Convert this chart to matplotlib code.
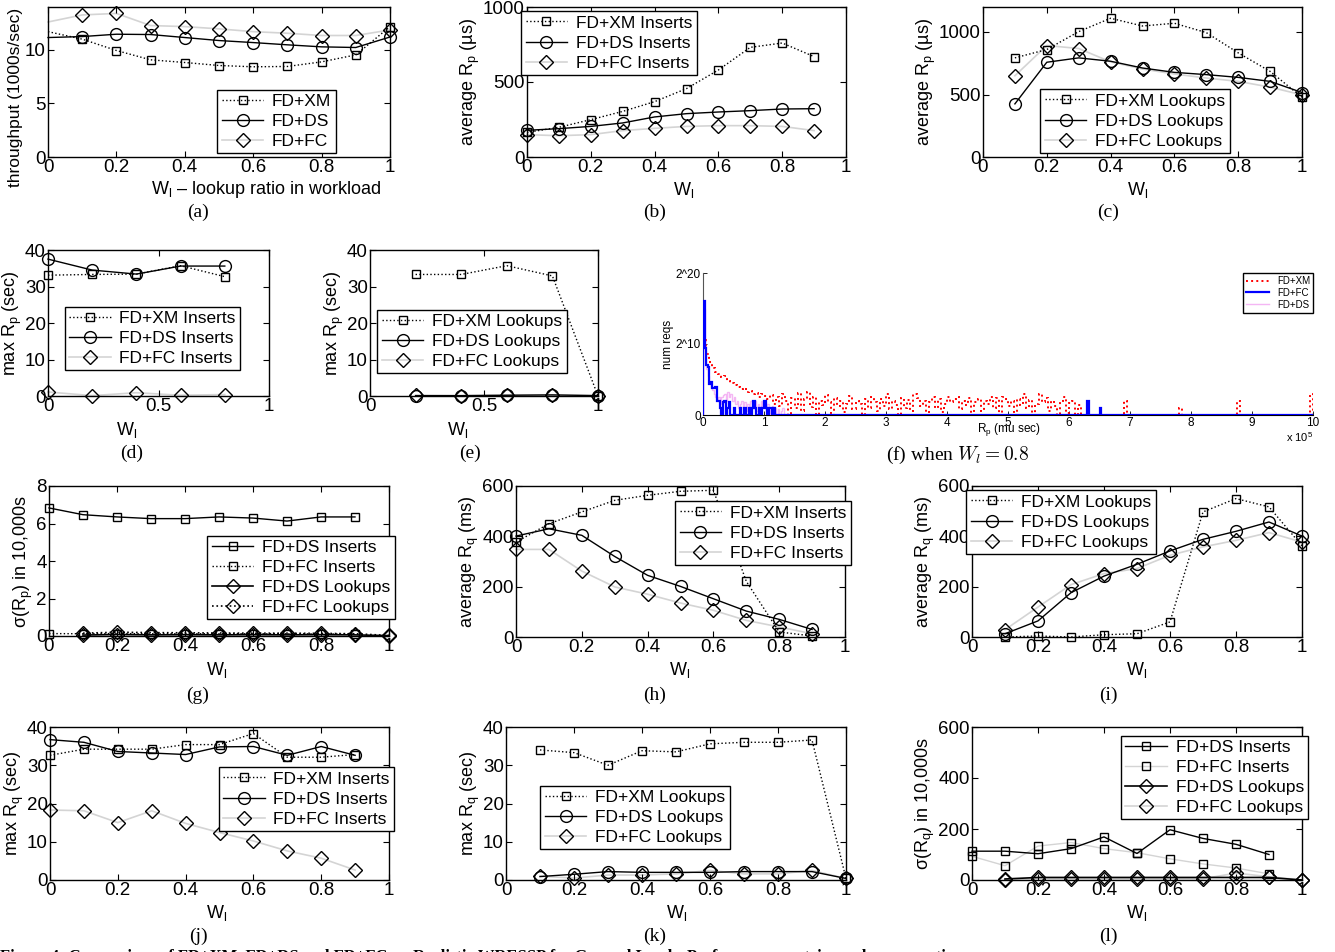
import numpy as np
import matplotlib
matplotlib.use('Agg')
import matplotlib.pyplot as plt

plt.rcParams['font.family'] = ['Liberation Sans', 'DejaVu Sans']
plt.rcParams['mathtext.fontset'] = 'custom'
plt.rcParams['mathtext.rm'] = 'Liberation Sans'
plt.rcParams['mathtext.it'] = 'Liberation Sans:italic'
plt.rcParams['font.size'] = 13

W, H = 1335, 952

# ---- data ----
wl = [0.0, 0.1, 0.2, 0.3, 0.4, 0.5, 0.6, 0.7, 0.8, 0.9, 1.0]
wl_ins = wl[:10]
wl_look = wl[1:]

# (a) throughput
a_xm = [11.7, 11.0, 9.94, 9.07, 8.82, 8.54, 8.42, 8.45, 8.88, 9.53, 12.17]
a_ds = [11.15, 11.24, 11.46, 11.43, 11.15, 10.87, 10.68, 10.47, 10.28, 10.22, 11.2]
a_fc = [12.6, 13.26, 13.4, 12.27, 12.17, 11.96, 11.7, 11.55, 11.34, 11.34, 11.86]

# (b) average Rp inserts
b_xm = [164, 198, 249, 304, 369, 456, 580, 731, 760, 669]
b_ds = [178, 189, 204, 227, 267, 289, 300, 309, 320, 322]
b_fc = [149, 142, 149, 176, 191, 204, 209, 209, 204, 176]

# (c) average Rp lookups
c_xm = [793, 860, 1003, 1110, 1048, 1070, 995, 833, 685, 478]
c_ds = [425, 758, 793, 766, 712, 677, 659, 637, 605, 516]
c_fc = [650, 892, 868, 761, 704, 664, 632, 605, 559, 497]

# (d) max Rp inserts
d_x = [0.0, 0.2, 0.4, 0.6, 0.8]
d_xm = [33.1, 33.3, 33.4, 35.7, 32.7]
d_ds = [37.5, 34.5, 33.4, 35.6, 35.6]
d_fc = [1.1, 0.1, 0.9, 0.2, 0.4]

# (e) max Rp lookups
e_x = [0.2, 0.4, 0.6, 0.8, 1.0]
e_xm = [33.3, 33.3, 35.7, 32.9, 0.0]
e_ds = [0.1, 0.1, 0.2, 0.3, 0.1]
e_fc = [0.2, 0.1, 0.3, 0.3, 0.1]

# (f) histogram of Rp at Wl=0.8 (log2 counts), x in 1e5 mu sec
XM_BIN = 0.05
xm_head = [10.5, 8.6, 7.4, 6.6, 6.0, 5.8, 5.4, 5.5, 4.8, 4.5,
           4.2, 4.0, 3.6, 3.8, 3.2, 3.4, 3.0, 3.1, 2.6, 2.9,
           2.7, 2.2, 2.8, 1.6, 2.5, 1.2, 3.0, 2.0, 0.0, 2.4,
           1.0, 3.1, 0.6, 2.2, 3.3, 1.1, 2.6, 0.0, 2.0, 1.4,
           2.8, 1.8, 0.0, 2.4, 1.2, 2.0, 0.4, 1.6, 2.7, 0.8,
           2.0, 1.5, 0.0, 2.3, 1.0, 2.6, 1.8, 0.5, 2.2, 1.2,
           2.9, 0.8, 2.0, 1.4, 0.0, 2.4, 1.0, 2.1, 0.6, 3.0,
           2.4, 1.2, 2.0, 0.0, 1.8, 2.6, 1.0, 2.3, 0.4, 1.6,
           2.6, 1.8, 2.2, 2.5, 0.8, 2.0, 1.4, 2.4, 0.0, 1.9,
           2.2, 0.6, 2.0, 1.5, 2.5, 1.0, 2.4, 0.0, 2.6, 2.2,
           1.2, 2.0, 0.0, 2.2, 1.4, 2.9, 1.0, 2.1, 0.0, 1.6,
           3.0, 1.8, 2.4, 0.5, 2.0, 1.2, 0.0, 1.8, 2.5, 0.3,
           1.7, 2.0, 0.0, 1.4, 0.0, 0.0]
xm_tail_x = [6.9, 7.8, 8.75, 10.0]
xm_tail_h = [2.0, 1.0, 2.0, 3.0]

FINE_BIN = 0.025
fc_head = [16.0, 9.5, 7.0, 6.8, 4.4, 4.6, 3.8, 3.8, 3.9, 2.0,
           2.0, 1.0, 0.0, 1.8, 2.0, 0.0, 1.0, 1.8, 0.0, 0.0,
           1.0, 0.0, 0.0, 0.0, 1.0, 0.0, 0.0, 1.0, 0.0, 0.0,
           1.0, 0.0, 1.0, 2.0, 1.0, 0.0, 0.0, 1.0, 0.0, 1.0,
           2.0, 1.0, 0.0, 1.0, 1.0, 0.0, 1.0, 0.0]
fc_tail_x = [6.3, 6.5]
fc_tail_h = [2.0, 1.0]

ds_head = [15.0, 9.0, 6.5, 5.5, 4.5, 4.0, 3.5, 3.0, 2.5, 2.0,
           2.5, 1.5, 2.5, 2.8, 3.0, 2.0, 3.2, 2.5, 3.0, 2.0,
           2.5, 1.5, 2.0, 1.0, 1.5, 2.0, 1.0, 1.8, 0.5, 1.5,
           1.0, 2.0, 1.5, 1.0, 2.0, 0.5, 1.5, 1.0, 2.0, 1.2,
           1.8, 0.5, 1.5, 1.0, 0.0, 1.2, 0.5, 1.0, 0.0, 0.8,
           0.0, 0.5, 1.0, 0.0, 0.0]

# (g) std dev Rp
g_ds_ins = [6.83, 6.47, 6.35, 6.26, 6.26, 6.35, 6.29, 6.13, 6.35, 6.35]
g_fc_ins = [0.13, 0.12, 0.13, 0.12, 0.12, 0.12, 0.12, 0.12, 0.11, 0.11]
g_ds_look = [0.05, 0.08, 0.06, 0.07, 0.06, 0.07, 0.06, 0.07, 0.06, 0.02]
g_fc_look = [0.15, 0.2, 0.18, 0.17, 0.16, 0.15, 0.15, 0.14, 0.12, 0.03]

# (h) average Rq inserts
h_xm = [377, 450, 497, 543, 563, 579, 583, 221, 20, 4]
h_ds = [401, 430, 404, 320, 245, 201, 152, 103, 70, 30]
h_fc = [348, 348, 262, 199, 170, 135, 106, 66, 40, 13]

# (i) average Rq lookups
i_xm = [0, 4, 0, 9, 13, 60, 497, 550, 517, 362]
i_ds = [13, 64, 176, 242, 289, 342, 388, 420, 457, 401]
i_fc = [29, 119, 208, 252, 272, 325, 358, 384, 415, 377]

# (j) max Rq inserts
j_xm = [32.6, 34.2, 34.2, 34.2, 35.4, 35.4, 38.3, 32.1, 32.1, 32.8]
j_ds = [36.7, 36.0, 33.6, 33.2, 32.8, 34.8, 34.9, 32.6, 34.9, 32.6]
j_fc = [18.3, 18.1, 15.0, 18.1, 14.8, 12.4, 10.2, 7.6, 5.7, 2.6]

# (k) max Rq lookups
k_xm = [34.0, 33.3, 30.0, 33.8, 33.5, 35.6, 36.0, 36.0, 36.6, 0.4]
k_ds = [0.9, 1.5, 2.2, 2.0, 2.0, 2.0, 2.2, 2.2, 2.2, 0.4]
k_fc = [1.0, 0.5, 1.3, 1.3, 1.6, 2.5, 1.6, 1.6, 2.5, 0.4]

# (l) std dev Rq
l_ds_ins = [113, 113, 103, 123, 169, 104, 197, 163, 140, 100]
l_fc_ins = [93, 56, 133, 147, 123, 107, 83, 63, 47, 24]
l_ds_look = [4, 10, 10, 10, 10, 10, 10, 10, 10, 0]
l_fc_look = [1, 5, 5, 5, 5, 5, 5, 27, 13, 0]

# ---- styles ----
GRAY = '#d4d4d4'
XM = dict(color='k', ls=':', lw=1.0, marker='s', ms=6, mfc='none', mec='k', mew=1.0, clip_on=False)
DS = dict(color='k', ls='-', lw=1.0, marker='o', ms=8.5, mfc='none', mec='k', mew=1.0, clip_on=False)
FC = dict(color=GRAY, ls='-', lw=1.2, marker='D', ms=7, mfc='none', mec='k', mew=1.0, zorder=1.5,
          clip_on=False)

TICK_FS = 13.5
LAB_FS = 13
LEG_FS = 12.5

fig = plt.figure(figsize=(W / 100, H / 100), dpi=100)


def add_ax(l, t, r, b):
    ax = fig.add_axes([l / W, 1 - b / H, (r - l) / W, (b - t) / H])
    ax.tick_params(direction='in', top=True, right=True, length=4, width=0.8,
                   labelsize=TICK_FS, pad=1.5)
    for s in ax.spines.values():
        s.set_linewidth(1.0)
    return ax


def leg(ax, cx, cy, fs=LEG_FS):
    ax.legend(loc='center', bbox_to_anchor=(cx / W, 1 - cy / H), bbox_transform=fig.transFigure,
              fancybox=False, edgecolor='k', framealpha=1, borderpad=0.25, handlelength=2.4,
              handletextpad=0.5, labelspacing=0.28, fontsize=fs, borderaxespad=0)


def ftext(x, y, s, **kw):
    kw.setdefault('ha', 'center')
    kw.setdefault('va', 'center')
    fig.text(x / W, 1 - y / H, s, **kw)


def cap(x, y, s, **kw):
    ftext(x, y, s, family=['Liberation Serif', 'DejaVu Serif'], fontsize=14, **kw)


def ylab(ax, s):
    ax.set_ylabel(s, fontsize=LAB_FS, labelpad=1)


WL = 'W$_\\mathregular{l}$'
t02 = [0, 0.2, 0.4, 0.6, 0.8, 1]
t02l = ['0', '0.2', '0.4', '0.6', '0.8', '1']

# (a)
ax = add_ax(48, 7, 390, 157)
ax.plot(wl, a_xm, markevery=slice(1, None), label='FD+XM', **XM)
ax.plot(wl, a_ds, markevery=slice(1, None), label='FD+DS', **DS)
ax.plot(wl, a_fc, markevery=slice(1, None), label='FD+FC', **FC)
ax.set_xlim(0, 1); ax.set_ylim(0, 14)
ax.set_xticks(t02, t02l); ax.set_yticks([0, 5, 10])
ftext(16, 97, 'throughput (1000s/sec)', fontsize=12.5, rotation=90)
leg(ax, 276.5, 121.5)
ftext(266, 190, WL + ' \u2013 lookup ratio in workload', fontsize=LAB_FS)
cap(198, 212, '(a)')

# (b)
ax = add_ax(527, 7, 846, 157)
ax.plot(wl_ins, b_xm, label='FD+XM Inserts', **XM)
ax.plot(wl_ins, b_ds, label='FD+DS Inserts', **DS)
ax.plot(wl_ins, b_fc, label='FD+FC Inserts', **FC)
ax.set_xlim(0, 1); ax.set_ylim(0, 1000)
ax.set_xticks(t02, t02l); ax.set_yticks([0, 500, 1000])
ylab(ax, 'average R$_\\mathregular{p}$ (\u00b5s)')
leg(ax, 609, 43)
ftext(684, 190, WL, fontsize=LAB_FS)
cap(655, 212, '(b)')

# (c)
ax = add_ax(983, 7, 1302, 157)
ax.plot(wl_look, c_xm, label='FD+XM Lookups', **XM)
ax.plot(wl_look, c_ds, label='FD+DS Lookups', **DS)
ax.plot(wl_look, c_fc, label='FD+FC Lookups', **FC)
ax.set_xlim(0, 1); ax.set_ylim(0, 1200)
ax.set_xticks(t02, t02l); ax.set_yticks([0, 500, 1000])
ylab(ax, 'average R$_\\mathregular{p}$ (\u00b5s)')
leg(ax, 1135, 121)
ftext(1138, 190, WL, fontsize=LAB_FS)
cap(1108, 212, '(c)')

# (d)
ax = add_ax(48, 250, 269, 396)
ax.plot(d_x, d_xm, label='FD+XM Inserts', **XM)
ax.plot(d_x, d_ds, label='FD+DS Inserts', **DS)
ax.plot(d_x, d_fc, label='FD+FC Inserts', **FC)
ax.set_xlim(0, 1); ax.set_ylim(0, 40)
ax.set_xticks([0, 0.5, 1], ['0', '0.5', '1']); ax.set_yticks([0, 10, 20, 30, 40])
ylab(ax, 'max R$_\\mathregular{p}$ (sec)')
leg(ax, 152.5, 338.5)
ftext(127, 430, WL, fontsize=LAB_FS)
cap(132, 453, '(d)')

# (e)
ax = add_ax(370, 250, 598, 396)
ax.plot(e_x, e_xm, label='FD+XM Lookups', **XM)
ax.plot(e_x, e_ds, label='FD+DS Lookups', **DS)
ax.plot(e_x, e_fc, label='FD+FC Lookups', **FC)
ax.set_xlim(0, 1); ax.set_ylim(0, 40)
ax.set_xticks([0, 0.5, 1], ['0', '0.5', '1']); ax.set_yticks([0, 10, 20, 30, 40])
ylab(ax, 'max R$_\\mathregular{p}$ (sec)')
leg(ax, 472, 341.5)
ftext(458, 430, WL, fontsize=LAB_FS)
cap(470, 453, '(e)')

# (f)
ax = fig.add_axes([703 / W, 1 - 415 / H, (1313 - 703) / W, (415 - 273) / H])
ax.spines['top'].set_visible(False); ax.spines['right'].set_visible(False)
ax.spines['left'].set_color('#555555'); ax.spines['bottom'].set_linewidth(0.8)
ax.tick_params(direction='in', length=3, width=0.6, labelsize=8.5, pad=1.5)

xm_full = np.zeros(int(round(10 / XM_BIN)))
xm_full[:len(xm_head)] = xm_head
for x, h in zip(xm_tail_x, xm_tail_h):
    xm_full[min(int(round(x / XM_BIN)), len(xm_full) - 1)] = h
fine_n = int(round(10 / FINE_BIN))
fc_full = np.zeros(fine_n)
fc_full[:len(fc_head)] = fc_head
for x, h in zip(fc_tail_x, fc_tail_h):
    fc_full[min(int(round(x / FINE_BIN)), fine_n - 1)] = h
ds_full = np.zeros(fine_n)
ds_full[:len(ds_head)] = ds_head

st_xm = ax.stairs(xm_full, np.arange(len(xm_full) + 1) * XM_BIN, color='red', ls=':', lw=1.4,
                  label='FD+XM', zorder=2)
st_ds = ax.stairs(ds_full, np.arange(fine_n + 1) * FINE_BIN, color='#f4b6f4', lw=1.0,
                  label='FD+DS', zorder=3)
st_fc = ax.stairs(fc_full, np.arange(fine_n + 1) * FINE_BIN, color='blue', lw=1.6,
                  label='FD+FC', zorder=4)
ax.set_xlim(0, 10); ax.set_ylim(0, 20)
ax.set_xticks(range(11)); ax.set_yticks([0, 10, 20], ['0', '2^10', '2^20'])
ax.set_ylabel('num reqs', fontsize=8.5, labelpad=1)
ax.legend(handles=[st_xm, st_fc, st_ds], loc='upper right', fancybox=False, edgecolor='k',
          framealpha=1, fontsize=7, borderpad=0.3, handlelength=2.4, labelspacing=0.2,
          borderaxespad=0)
ftext(1009, 430, 'R$_\\mathregular{p}$ (mu sec)', fontsize=8.5)
ftext(1300, 437, 'x 10$^\\mathregular{5}$', fontsize=8)
ftext(958, 455, '(f) when $W_l = 0.8$', family=['Liberation Serif', 'DejaVu Serif'],
      fontsize=14, math_fontfamily='cm')

# (g)
ax = add_ax(49, 486, 389, 636)
ax.plot(wl_ins, g_ds_ins, label='FD+DS Inserts', **dict(XM, ls='-'))
ax.plot(wl_ins, g_fc_ins, label='FD+FC Inserts', **XM)
ax.plot(wl_look, g_ds_look, label='FD+DS Lookups', **dict(FC, color='k', ls='-', zorder=2))
ax.plot(wl_look, g_fc_look, label='FD+FC Lookups', **dict(FC, color='k', ls=':', zorder=2))
ax.set_xlim(0, 1); ax.set_ylim(0, 8)
ax.set_xticks(t02, t02l); ax.set_yticks([0, 2, 4, 6, 8])
ylab(ax, '\u03c3(R$_\\mathregular{p}$) in 10,000s')
leg(ax, 301, 577.5)
ftext(217, 670, WL, fontsize=LAB_FS)
cap(198, 695, '(g)')

# (h)
ax = add_ax(516, 486, 845, 637)
ax.plot(wl_ins, h_xm, label='FD+XM Inserts', **XM)
ax.plot(wl_ins, h_ds, label='FD+DS Inserts', **DS)
ax.plot(wl_ins, h_fc, label='FD+FC Inserts', **FC)
ax.set_xlim(0, 1); ax.set_ylim(0, 600)
ax.set_xticks(t02, t02l); ax.set_yticks([0, 200, 400, 600])
ylab(ax, 'average R$_\\mathregular{q}$ (ms)')
leg(ax, 763, 533)
ftext(680, 670, WL, fontsize=LAB_FS)
cap(655, 695, '(h)')

# (i)
ax = add_ax(972, 486, 1302, 637)
ax.plot(wl_look, i_xm, label='FD+XM Lookups', **XM)
ax.plot(wl_look, i_ds, label='FD+DS Lookups', **DS)
ax.plot(wl_look, i_fc, label='FD+FC Lookups', **FC)
ax.set_xlim(0, 1); ax.set_ylim(0, 600)
ax.set_xticks(t02, t02l); ax.set_yticks([0, 200, 400, 600])
ylab(ax, 'average R$_\\mathregular{q}$ (ms)')
leg(ax, 1061, 522)
ftext(1137, 670, WL, fontsize=LAB_FS)
cap(1108, 695, '(i)')

# (j)
ax = add_ax(50, 727, 389, 880)
ax.plot(wl_ins, j_xm, label='FD+XM Inserts', **XM)
ax.plot(wl_ins, j_ds, label='FD+DS Inserts', **DS)
ax.plot(wl_ins, j_fc, label='FD+FC Inserts', **FC)
ax.set_xlim(0, 1); ax.set_ylim(0, 40)
ax.set_xticks(t02, t02l); ax.set_yticks([0, 10, 20, 30, 40])
ylab(ax, 'max R$_\\mathregular{q}$ (sec)')
leg(ax, 306.5, 799)
ftext(217, 913, WL, fontsize=LAB_FS)
cap(198, 936, '(j)')

# (k)
ax = add_ax(506, 727, 846, 880)
ax.plot(wl_look, k_xm, label='FD+XM Lookups', **XM)
ax.plot(wl_look, k_ds, label='FD+DS Lookups', **DS)
ax.plot(wl_look, k_fc, label='FD+FC Lookups', **FC)
ax.set_xlim(0, 1); ax.set_ylim(0, 40)
ax.set_xticks(t02, t02l); ax.set_yticks([0, 10, 20, 30, 40])
ylab(ax, 'max R$_\\mathregular{q}$ (sec)')
leg(ax, 635, 817.5)
ftext(677, 913, WL, fontsize=LAB_FS)
cap(655, 936, '(k)')

# (l)
ax = add_ax(972, 727, 1302, 880)
ax.plot(wl_ins, l_ds_ins, label='FD+DS Inserts', **dict(XM, ls='-'))
ax.plot(wl_ins, l_fc_ins, label='FD+FC Inserts', **dict(XM, color=GRAY, ls='-', zorder=1.5))
ax.plot(wl_look, l_ds_look, label='FD+DS Lookups', **dict(FC, color='k', zorder=2))
ax.plot(wl_look, l_fc_look, label='FD+FC Lookups', **FC)
ax.set_xlim(0, 1); ax.set_ylim(0, 600)
ax.set_xticks(t02, t02l); ax.set_yticks([0, 200, 400, 600])
ylab(ax, '\u03c3(R$_\\mathregular{q}$) in 10,000s')
leg(ax, 1214.5, 777.5)
ftext(1137, 913, WL, fontsize=LAB_FS)
cap(1108, 936, '(l)')

ftext(0, 949, 'Figure 4: Comparison of FD+XM, FD+DS and FD+FC on Realistic WRESSP for General Loads. Performance metrics and response times',
      ha='left', va='top', fontsize=12, fontweight='bold', family=['Liberation Serif', 'DejaVu Serif'])

fig.savefig('out.png', dpi=100)
